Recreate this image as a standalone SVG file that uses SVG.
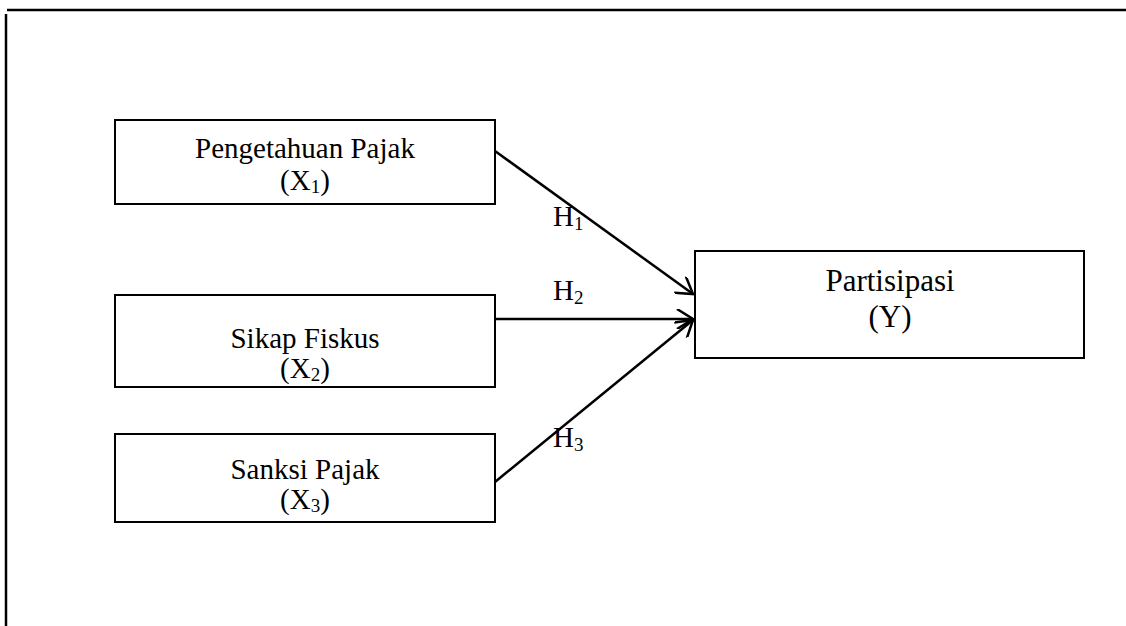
<svg xmlns="http://www.w3.org/2000/svg" width="1126" height="626" viewBox="0 0 1126 626">
<style>
.box{fill:#fff;stroke:#000;stroke-width:2}
.t{font-family:"Liberation Serif","Times New Roman",serif;font-size:29px;fill:#000;text-anchor:middle}
.ty{font-size:31px}
.lbl{font-family:"Liberation Serif","Times New Roman",serif;font-size:29px;fill:#000}
.sub{font-size:19px}
.conn{stroke:#000;stroke-width:2.5;fill:none;marker-end:url(#ah)}
.frame{stroke:#000;stroke-width:2.5;fill:none}
</style>
<defs>
<marker id="ah" viewBox="0 0 20 20" refX="18" refY="10" markerWidth="20" markerHeight="20" markerUnits="userSpaceOnUse" orient="auto">
<path d="M2,0 L18,10 L2,20" fill="none" stroke="#000" stroke-width="2.5"/>
</marker>
</defs>
<g id="frame">
<line class="frame" x1="7" y1="10" x2="1126" y2="10"/>
<line class="frame" x1="6" y1="14" x2="6" y2="626"/>
</g>
<g id="connectors">
<line class="conn" x1="495" y1="151" x2="693" y2="294"/>
<line class="conn" x1="495" y1="319" x2="693" y2="319"/>
<line class="conn" x1="495" y1="482" x2="693" y2="320"/>
<text class="lbl" x="553" y="226">H<tspan class="sub" dy="4">1</tspan></text>
<text class="lbl" x="553" y="300">H<tspan class="sub" dy="4">2</tspan></text>
<text class="lbl" x="553" y="447">H<tspan class="sub" dy="4">3</tspan></text>
</g>
<g id="x1">
<rect class="box" x="115" y="120" width="380" height="84"/>
<text class="t" x="305" y="158">Pengetahuan Pajak</text>
<text class="t" x="305" y="190">(X<tspan class="sub" dy="3">1</tspan><tspan dy="-3">)</tspan></text>
</g>
<g id="x2">
<rect class="box" x="115" y="295" width="380" height="92"/>
<text class="t" x="305" y="348">Sikap Fiskus</text>
<text class="t" x="305" y="378">(X<tspan class="sub" dy="3">2</tspan><tspan dy="-3">)</tspan></text>
</g>
<g id="x3">
<rect class="box" x="115" y="434" width="380" height="88"/>
<text class="t" x="305" y="479">Sanksi Pajak</text>
<text class="t" x="305" y="509">(X<tspan class="sub" dy="3">3</tspan><tspan dy="-3">)</tspan></text>
</g>
<g id="y">
<rect class="box" x="695" y="251" width="389" height="107"/>
<text class="t ty" x="890" y="291">Partisipasi</text>
<text class="t ty" x="890" y="327">(Y)</text>
</g>
</svg>
